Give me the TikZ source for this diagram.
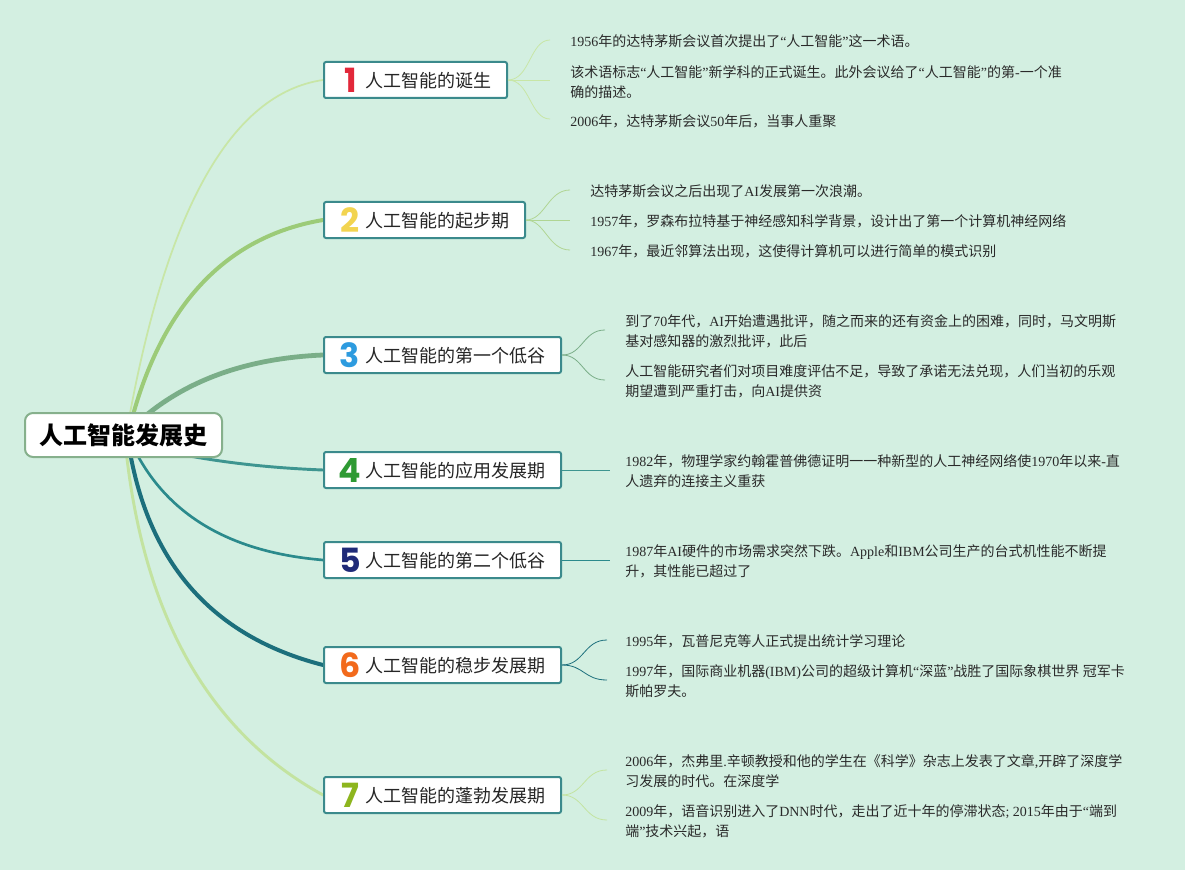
\documentclass[tikz,border=0pt]{standalone}
\usepackage{fontspec}
\usetikzlibrary{calc}
\setmainfont{Noto Sans CJK SC}
\newfontfamily\numf{Poppins}
\newfontfamily\latf{Liberation Serif}
\newcommand\LL[1]{{\latf #1}}
\definecolor{bgc}{HTML}{D3EFE1}
\definecolor{rootborder}{HTML}{86B08C}
\definecolor{topicborder}{HTML}{3B8A8C}
\definecolor{cA}{HTML}{C8E6A6}
\definecolor{cB}{HTML}{9CCB78}
\definecolor{cC}{HTML}{7AAE88}
\definecolor{cD}{HTML}{3E9590}
\definecolor{cE}{HTML}{2B8A8C}
\definecolor{cF}{HTML}{1C6F7C}
\definecolor{cG}{HTML}{C3E3A0}
\definecolor{n1}{HTML}{E2283A}
\definecolor{n2}{HTML}{F2D450}
\definecolor{n3}{HTML}{2D9BDF}
\definecolor{n4}{HTML}{2E9A33}
\definecolor{n5}{HTML}{1F2A78}
\definecolor{n6}{HTML}{F26A1C}
\definecolor{n7}{HTML}{8DB51E}
\definecolor{leaftext}{HTML}{2A2A2A}
\begin{document}
\begin{tikzpicture}[x=0.75pt,y=-0.75pt,
  rootbox/.style={draw=rootborder, line width=1.5pt, rounded corners=6pt, fill=white,
    minimum width=147.75pt, minimum height=33pt, inner sep=0pt,
    font=\fontsize{18}{20}\selectfont\bfseries},
  topicbox/.style={draw=topicborder, line width=1.5pt, rounded corners=1.5pt, fill=white,
    minimum height=27pt, inner sep=0pt, anchor=west},
  num/.style={font=\fontsize{25}{25}\selectfont\numf\bfseries, inner sep=0pt},
  ttext/.style={font=\fontsize{13.5}{16}\selectfont, anchor=west, inner sep=0pt, text=black!85},
  leaf/.style={font=\fontsize{10.5}{15}\selectfont, anchor=west, align=left, inner sep=0pt, text=leaftext},
  branch/.style={line cap=round},
  twig/.style={line width=0.6pt}
]
\useasboundingbox (0,0) rectangle (1185,870);
\fill[bgc] (0,0) rectangle (1185,870);

\coordinate (e1) at (323,80);
\coordinate (e2) at (323,220);
\coordinate (e3) at (323,355);
\coordinate (e4) at (323,470);
\coordinate (e5) at (323,560);
\coordinate (e6) at (323,665);
\coordinate (e7) at (323,795);
% start points (under the root box) and quadratic control points
\coordinate (s1) at (127,430); \coordinate (q1) at (185,100);
\coordinate (s2) at (129,430); \coordinate (q2) at (175,245);
\coordinate (s3) at (135,425); \coordinate (q3) at (205,360);
\coordinate (s4) at (140,445); \coordinate (q4) at (220,466);
\coordinate (s5) at (130,440); \coordinate (q5) at (178,548);
\coordinate (s6) at (128,440); \coordinate (q6) at (155,622);
\coordinate (s7) at (125,440); \coordinate (q7) at (150,700);

% main branches (quadratic curves written as cubic)
\draw[branch, cA, line width=1.3pt] (s1) .. controls ($(s1)!2/3!(q1)$) and ($(e1)!2/3!(q1)$) .. (e1);
\draw[branch, cB, line width=3pt] (s2) .. controls ($(s2)!2/3!(q2)$) and ($(e2)!2/3!(q2)$) .. (e2);
\draw[branch, cC, line width=3.6pt] (s3) .. controls ($(s3)!2/3!(q3)$) and ($(e3)!2/3!(q3)$) .. (e3);
\draw[branch, cD, line width=2.2pt] (s4) .. controls ($(s4)!2/3!(q4)$) and ($(e4)!2/3!(q4)$) .. (e4);
\draw[branch, cE, line width=2pt] (s5) .. controls ($(s5)!2/3!(q5)$) and ($(e5)!2/3!(q5)$) .. (e5);
\draw[branch, cF, line width=3pt] (s6) .. controls ($(s6)!2/3!(q6)$) and ($(e6)!2/3!(q6)$) .. (e6);
\draw[branch, cG, line width=2.2pt] (s7) .. controls ($(s7)!2/3!(q7)$) and ($(e7)!2/3!(q7)$) .. (e7);

% root
\node[rootbox] (root) at (123.5,435) {人工智能发展史};

% topic boxes
\node[topicbox, minimum width=137.25pt] (b1) at (e1) {};
\node[topicbox, minimum width=150.75pt] (b2) at (e2) {};
\node[topicbox, minimum width=177.75pt] (b3) at (e3) {};
\node[topicbox, minimum width=177.75pt] (b4) at (e4) {};
\node[topicbox, minimum width=177.75pt] (b5) at (e5) {};
\node[topicbox, minimum width=177.75pt] (b6) at (e6) {};
\node[topicbox, minimum width=177.75pt] (b7) at (e7) {};

\node[num, text=n1] (d1) at (351,80) {1};
\node[num, text=n2] (d2) at (350,220) {2};
\node[num, text=n3] (d3) at (350,355) {3};
\node[num, text=n4] (d4) at (350,470) {4};
\node[num, text=n5] (d5) at (350,560) {5};
\node[num, text=n6] (d6) at (350,665) {6};
\node[num, text=n7] (d7) at (350,795) {7};

\node[ttext] (t1) at (365,81) {人工智能的诞生};
\node[ttext] (t2) at (365,221) {人工智能的起步期};
\node[ttext] (t3) at (365,356) {人工智能的第一个低谷};
\node[ttext] (t4) at (365,471) {人工智能的应用发展期};
\node[ttext] (t5) at (365,561) {人工智能的第二个低谷};
\node[ttext] (t6) at (365,666) {人工智能的稳步发展期};
\node[ttext] (t7) at (365,796) {人工智能的蓬勃发展期};

% leaves branch 1
\node[leaf] (l11) at (570,41) {\LL{1956}年的达特茅斯会议首次提出了\LL{“}人工智能\LL{”}这一术语。};
\node[leaf] (l12) at (570,82) {该术语标志\LL{“}人工智能\LL{”}新学科的正式诞生。此外会议给了\LL{“}人工智能\LL{”}的第\LL{-}一个准\\确的描述。};
\node[leaf] (l13) at (570,121) {\LL{2006}年，达特茅斯会议\LL{50}年后，当事人重聚};
\coordinate (c11) at (550,40);
\coordinate (c12) at (550,80);
\coordinate (c13) at (550,119);
\draw[twig, cA] (b1.east) .. controls (530,80) and (530,40) .. (c11);
\draw[twig, cA] (b1.east) -- (c12);
\draw[twig, cA] (b1.east) .. controls (530,80) and (530,119) .. (c13);

% leaves branch 2
\node[leaf] (l21) at (590,191) {达特茅斯会议之后出现了\LL{AI}发展第一次浪潮。};
\node[leaf] (l22) at (590,221) {\LL{1957}年，罗森布拉特基于神经感知科学背景，设计出了第一个计算机神经网络};
\node[leaf] (l23) at (590,251) {\LL{1967}年，最近邻算法出现，这使得计算机可以进行简单的模式识别};
\coordinate (c21) at (570,190);
\coordinate (c22) at (570,220);
\coordinate (c23) at (570,250);
\draw[twig, cB!80] (b2.east) .. controls (545,220) and (548,190) .. (c21);
\draw[twig, cB!80] (b2.east) -- (c22);
\draw[twig, cB!80] (b2.east) .. controls (545,220) and (548,250) .. (c23);

% leaves branch 3
\node[leaf] (l31) at (625,331) {到了\LL{70}年代，\LL{AI}开始遭遇批评，随之而来的还有资金上的困难，同时，马文明斯\\基对感知器的激烈批评，此后};
\node[leaf] (l32) at (625,381) {人工智能研究者们对项目难度评估不足，导致了承诺无法兑现，人们当初的乐观\\期望遭到严重打击，向\LL{AI}提供资};
\coordinate (c31) at (605,330);
\coordinate (c32) at (605,380);
\draw[twig, cC] (b3.east) .. controls (583,355) and (583,330) .. (c31);
\draw[twig, cC] (b3.east) .. controls (583,355) and (583,380) .. (c32);

% leaves branch 4
\node[leaf] (l41) at (625,471) {\LL{1982}年，物理学家约翰霍普佛德证明一一种新型的人工神经网络使\LL{1970}年以来\LL{-}直\\人遗弃的连接主义重获};
\coordinate (c41) at (610,470);
\draw[twig, cD] (b4.east) -- (c41);

% leaves branch 5
\node[leaf] (l51) at (625,561) {\LL{1987}年\LL{AI}硬件的市场需求突然下跌。\LL{Apple}和\LL{IBM}公司生产的台式机性能不断提\\升，其性能已超过了};
\coordinate (c51) at (610,560);
\draw[twig, cE] (b5.east) -- (c51);

% leaves branch 6
\node[leaf] (l61) at (625,641) {\LL{1995}年，瓦普尼克等人正式提出统计学习理论};
\node[leaf] (l62) at (625,681) {\LL{1997}年，国际商业机器\LL{(IBM)}公司的超级计算机\LL{“}深蓝\LL{”}战胜了国际象棋世界\LL{ }冠军卡\\斯帕罗夫。};
\coordinate (c61) at (607,640);
\coordinate (c62) at (607,680);
\draw[twig, cF] (b6.east) .. controls (584,665) and (584,640) .. (c61);
\draw[twig, cF] (b6.east) .. controls (584,665) and (584,680) .. (c62);

% leaves branch 7
\node[leaf] (l71) at (625,771) {\LL{2006}年，杰弗里\LL{.}辛顿教授和他的学生在《科学》杂志上发表了文章\LL{,}开辟了深度学\\习发展的时代。在深度学};
\node[leaf] (l72) at (625,821) {\LL{2009}年，语音识别进入了\LL{DNN}时代，走出了近十年的停滞状态\LL{; 2015}年由于\LL{“}端到\\端\LL{”}技术兴起，语};
\coordinate (c71) at (607,770);
\coordinate (c72) at (607,820);
\draw[twig, cG] (b7.east) .. controls (584,795) and (584,770) .. (c71);
\draw[twig, cG] (b7.east) .. controls (584,795) and (584,820) .. (c72);
\end{tikzpicture}
\end{document}
